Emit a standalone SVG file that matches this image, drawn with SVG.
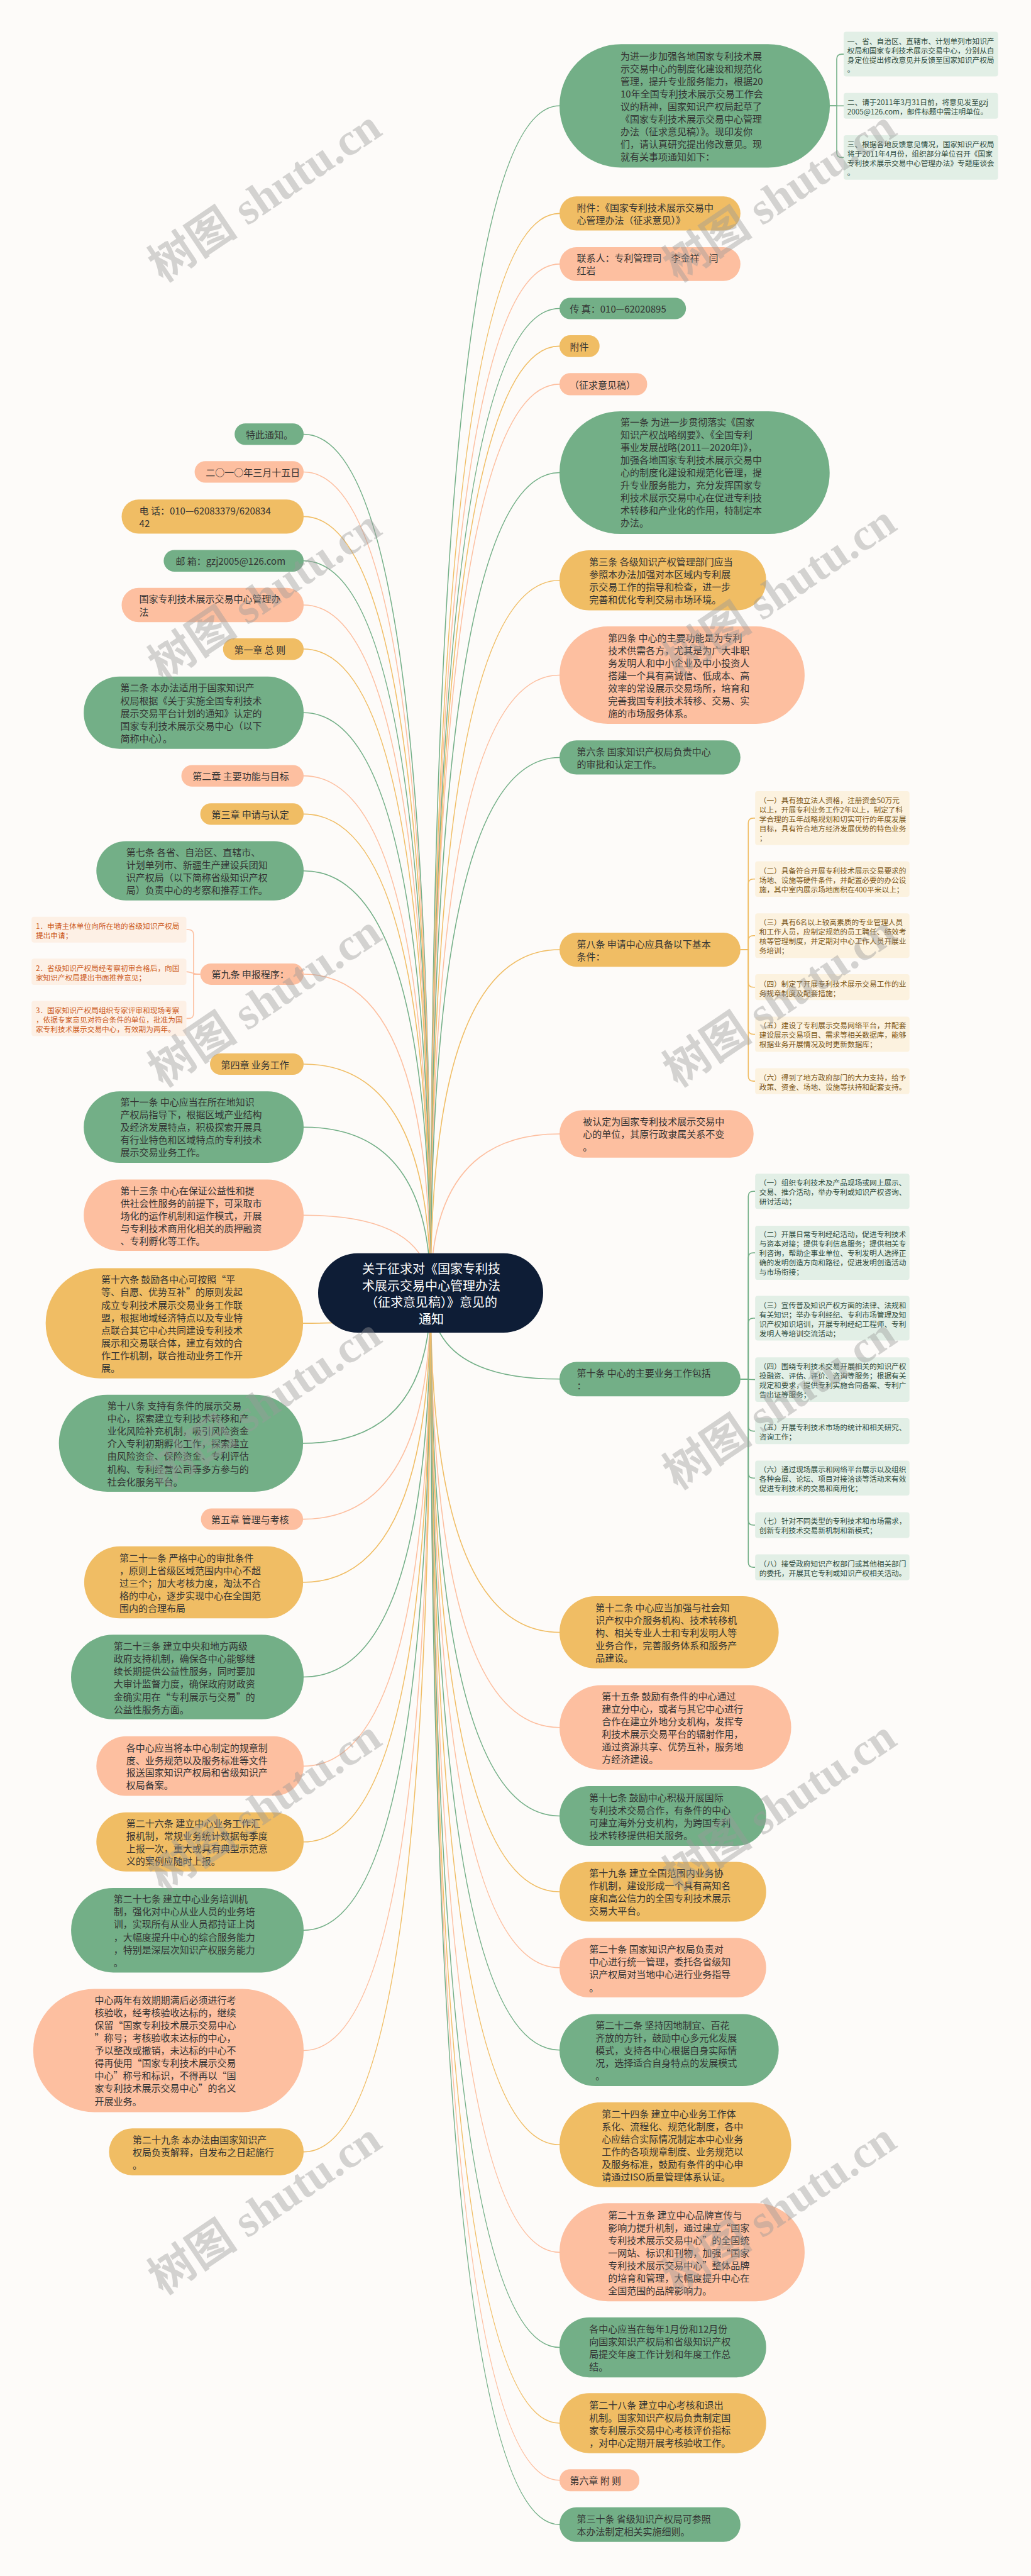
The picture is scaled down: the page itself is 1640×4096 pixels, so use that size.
<svg xmlns="http://www.w3.org/2000/svg" width="1640" height="4096" viewBox="0 0 1640 4096">
<style>
.bg{fill:#fdfbf9}
.g{fill:#73af87}.y{fill:#f0bd64}.s{fill:#fdbfa0}.root{fill:#0e1d36}
.dg{fill:#e2efe6}.dy{fill:#fcf2df}.ds{fill:#fdf0e5}
.t{font-family:"Noto Sans CJK SC","Noto Sans",sans-serif;font-size:15px;fill:#333333;dominant-baseline:central}
.d{font-family:"Noto Sans CJK SC","Noto Sans",sans-serif;font-size:11.7px;dominant-baseline:central}
.tg{fill:#2e4a3b}.ty{fill:#7a5516}.ts{fill:#cc5a1c}
.rt{font-family:"Noto Sans CJK SC","Noto Sans",sans-serif;font-size:20px;fill:#ffffff;dominant-baseline:central;text-anchor:middle}
.c{fill:none;stroke-width:1.6}
.cg{stroke:#73af87}.cy{stroke:#f0bd64}.cs{stroke:#fdbfa0}
.wm{font-family:"Liberation Serif","Noto Sans CJK SC",serif;font-size:72px;font-weight:bold;fill:#9a9a9a;opacity:0.42}
</style>
<rect class="bg" x="0" y="0" width="1640" height="4096"/>
<g id="connectors">
<path class="c cg" d="M685 2056 Q685 168.3 890 168.3"/>
<path class="c cy" d="M685 2056 Q685 339.4 890 339.4"/>
<path class="c cs" d="M685 2056 Q685 419.9 890 419.9"/>
<path class="c cg" d="M685 2056 Q685 490.5 890 490.5"/>
<path class="c cy" d="M685 2056 Q685 550.4 890 550.4"/>
<path class="c cs" d="M685 2056 Q685 610.9 890 610.9"/>
<path class="c cg" d="M685 2056 Q685 751.5 890 751.5"/>
<path class="c cy" d="M685 2056 Q685 922.8 890 922.8"/>
<path class="c cs" d="M685 2056 Q685 1073.5 890 1073.5"/>
<path class="c cg" d="M685 2056 Q685 1204.5 890 1204.5"/>
<path class="c cy" d="M685 2056 Q685 1510 890 1510"/>
<path class="c cs" d="M685 2056 Q685 1803 890 1803"/>
<path class="c cg" d="M685 2056 Q685 2192.8 890 2192.8"/>
<path class="c cy" d="M685 2056 Q685 2595.5 890 2595.5"/>
<path class="c cs" d="M685 2056 Q685 2746.7 890 2746.7"/>
<path class="c cg" d="M685 2056 Q685 2887.5 890 2887.5"/>
<path class="c cy" d="M685 2056 Q685 3008 890 3008"/>
<path class="c cs" d="M685 2056 Q685 3128.8 890 3128.8"/>
<path class="c cg" d="M685 2056 Q685 3259.7 890 3259.7"/>
<path class="c cy" d="M685 2056 Q685 3410.3 890 3410.3"/>
<path class="c cs" d="M685 2056 Q685 3581.3 890 3581.3"/>
<path class="c cg" d="M685 2056 Q685 3732.5 890 3732.5"/>
<path class="c cy" d="M685 2056 Q685 3853 890 3853"/>
<path class="c cs" d="M685 2056 Q685 3943.8 890 3943.8"/>
<path class="c cg" d="M685 2056 Q685 4014.2 890 4014.2"/>
<path class="c cg" d="M685 2056 Q685 690.5 483 690.5"/>
<path class="c cs" d="M685 2056 Q685 750.5 483 750.5"/>
<path class="c cy" d="M685 2056 Q685 821.4 483 821.4"/>
<path class="c cg" d="M685 2056 Q685 891.8 483 891.8"/>
<path class="c cs" d="M685 2056 Q685 962 483 962"/>
<path class="c cy" d="M685 2056 Q685 1032 483 1032"/>
<path class="c cg" d="M685 2056 Q685 1133.3 483 1133.3"/>
<path class="c cs" d="M685 2056 Q685 1233.6 483 1233.6"/>
<path class="c cy" d="M685 2056 Q685 1294.4 483 1294.4"/>
<path class="c cg" d="M685 2056 Q685 1384.7 483 1384.7"/>
<path class="c cs" d="M685 2056 Q685 1549 483 1549"/>
<path class="c cy" d="M685 2056 Q685 1692 483 1692"/>
<path class="c cg" d="M685 2056 Q685 1792.2 483 1792.2"/>
<path class="c cs" d="M685 2056 Q685 1932.2 483 1932.2"/>
<path class="c cy" d="M685 2056 Q685 2104.1 482 2104.1"/>
<path class="c cg" d="M685 2056 Q685 2294.9 482 2294.9"/>
<path class="c cs" d="M685 2056 Q685 2415.6 482 2415.6"/>
<path class="c cy" d="M685 2056 Q685 2516 482 2516"/>
<path class="c cg" d="M685 2056 Q685 2666.5 483 2666.5"/>
<path class="c cs" d="M685 2056 Q685 2808.2 483 2808.2"/>
<path class="c cy" d="M685 2056 Q685 2928.8 483 2928.8"/>
<path class="c cg" d="M685 2056 Q685 3069.2 483 3069.2"/>
<path class="c cs" d="M685 2056 Q685 3260.5 483 3260.5"/>
<path class="c cy" d="M685 2056 Q685 3421.6 483 3421.6"/>
<path class="c cg" d="M1320 168.3 H1331 V94.1 Q1331 86.1 1339 86.1 H1342"/>
<path class="c cg" d="M1320 168.3 H1342"/>
<path class="c cg" d="M1320 168.3 H1331 V242.4 Q1331 250.4 1339 250.4 H1342"/>
<path class="c cy" d="M1177.8 1510 H1190.3 V1308.9 Q1190.3 1300.9 1198.3 1300.9 H1201.2"/>
<path class="c cy" d="M1177.8 1510 H1190.3 V1405.8 Q1190.3 1397.8 1198.3 1397.8 H1201.2"/>
<path class="c cy" d="M1177.8 1510 H1190.3 V1495.8 Q1190.3 1487.8 1198.3 1487.8 H1201.2"/>
<path class="c cy" d="M1177.8 1510 H1190.3 V1561.7 Q1190.3 1569.7 1198.3 1569.7 H1201.2"/>
<path class="c cy" d="M1177.8 1510 H1190.3 V1636.6 Q1190.3 1644.6 1198.3 1644.6 H1201.2"/>
<path class="c cy" d="M1177.8 1510 H1190.3 V1711.1 Q1190.3 1719.1 1198.3 1719.1 H1201.2"/>
<path class="c cg" d="M1177.8 2192.8 H1190.3 V1902.2 Q1190.3 1894.2 1198.3 1894.2 H1201.2"/>
<path class="c cg" d="M1177.8 2192.8 H1190.3 V2000 Q1190.3 1992 1198.3 1992 H1201.2"/>
<path class="c cg" d="M1177.8 2192.8 H1190.3 V2104 Q1190.3 2096 1198.3 2096 H1201.2"/>
<path class="c cg" d="M1177.8 2192.8 C1190 2192.8 1190 2193.6 1201.2 2193.6"/>
<path class="c cg" d="M1177.8 2192.8 H1190.3 V2267.6 Q1190.3 2275.6 1198.3 2275.6 H1201.2"/>
<path class="c cg" d="M1177.8 2192.8 H1190.3 V2342.3 Q1190.3 2350.3 1198.3 2350.3 H1201.2"/>
<path class="c cg" d="M1177.8 2192.8 H1190.3 V2417 Q1190.3 2425 1198.3 2425 H1201.2"/>
<path class="c cg" d="M1177.8 2192.8 H1190.3 V2484.1 Q1190.3 2492.1 1198.3 2492.1 H1201.2"/>
<path class="c cs" d="M318.6 1549 H307.9 V1486.3 Q307.9 1478.3 299.9 1478.3 H296.5"/>
<path class="c cs" d="M318.6 1549 C305 1549 305 1545.1 296.5 1545.1"/>
<path class="c cs" d="M318.6 1549 H307.9 V1611.4 Q307.9 1619.4 299.9 1619.4 H296.5"/>
</g>
<g id="root">
<rect class="root" x="506" y="1992.7" width="358" height="126.3" rx="63" ry="63"/>
<text class="rt" x="686" y="2016.5">关于征求对《国家专利技</text>
<text class="rt" x="686" y="2043.2">术展示交易中心管理办法</text>
<text class="rt" x="686" y="2069.9">（征求意见稿）》意见的</text>
<text class="rt" x="686" y="2096.6">通知</text>
</g>
<g id="n1">
<rect class="g" x="890" y="70.2" width="430" height="196.2" rx="98" ry="98"/>
<text class="t" x="987" y="88.5">为进一步加强各地国家专利技术展</text>
<text class="t" x="987" y="108.5">示交易中心的制度化建设和规范化</text>
<text class="t" x="987" y="128.5">管理，提升专业服务能力，根据20</text>
<text class="t" x="987" y="148.5">10年全国专利技术展示交易工作会</text>
<text class="t" x="987" y="168.5">议的精神，国家知识产权局起草了</text>
<text class="t" x="987" y="188.5">《国家专利技术展示交易中心管理</text>
<text class="t" x="987" y="208.5">办法（征求意见稿）》。现印发你</text>
<text class="t" x="987" y="228.5">们，请认真研究提出修改意见。现</text>
<text class="t" x="987" y="248.5">就有关事项通知如下：</text>
</g>
<g id="n1d1">
<rect class="dg" x="1342" y="50.6" width="245.6" height="71" rx="4"/>
<text class="d tg" x="1347.8" y="64">一、省、自治区、直辖市、计划单列市知识产</text>
<text class="d tg" x="1347.8" y="79">权局和国家专利技术展示交易中心，分别从自</text>
<text class="d tg" x="1347.8" y="94">身定位提出修改意见并反馈至国家知识产权局</text>
<text class="d tg" x="1347.8" y="109">。</text>
</g>
<g id="n1d2">
<rect class="dg" x="1342" y="147.8" width="245.6" height="41" rx="4"/>
<text class="d tg" x="1347.8" y="161.7">二、请于2011年3月31日前，将意见发至gzj</text>
<text class="d tg" x="1347.8" y="176.7">2005@126.com，邮件标题中需注明单位。</text>
</g>
<g id="n1d3">
<rect class="dg" x="1342" y="215" width="245.6" height="70.8" rx="4"/>
<text class="d tg" x="1347.8" y="228.2">三、根据各地反馈意见情况，国家知识产权局</text>
<text class="d tg" x="1347.8" y="243.2">将于2011年4月份，组织部分单位召开《国家</text>
<text class="d tg" x="1347.8" y="258.2">专利技术展示交易中心管理办法》专题座谈会</text>
<text class="d tg" x="1347.8" y="273.2">。</text>
</g>
<g id="n2">
<rect class="y" x="890" y="312.2" width="287.8" height="54.3" rx="27" ry="27"/>
<text class="t" x="917.4" y="329.4">附件：《国家专利技术展示交易中</text>
<text class="t" x="917.4" y="349.6">心管理办法（征求意见）》</text>
</g>
<g id="n3">
<rect class="s" x="890" y="392.9" width="287.8" height="53.9" rx="27" ry="27"/>
<text class="t" x="917.4" y="409.8">联系人：专利管理司　李金祥　闫</text>
<text class="t" x="917.4" y="429.8">红岩</text>
</g>
<g id="n4">
<rect class="g" x="890" y="473.5" width="201.2" height="34" rx="17" ry="17"/>
<text class="t" x="906.4" y="490.5">传 真：010—62020895</text>
</g>
<g id="n5">
<rect class="y" x="890" y="532.9" width="63.7" height="34.9" rx="17" ry="17"/>
<text class="t" x="906.4" y="550.6">附件</text>
</g>
<g id="n6">
<rect class="s" x="890" y="593.2" width="139.4" height="35.3" rx="17" ry="17"/>
<text class="t" x="906" y="611">（征求意见稿）</text>
</g>
<g id="n7">
<rect class="g" x="890" y="653.9" width="429.7" height="195.2" rx="97" ry="97"/>
<text class="t" x="987" y="670.9">第一条 为进一步贯彻落实《国家</text>
<text class="t" x="987" y="690.9">知识产权战略纲要》、《全国专利</text>
<text class="t" x="987" y="710.9">事业发展战略(2011—2020年)》，</text>
<text class="t" x="987" y="730.9">加强各地国家专利技术展示交易中</text>
<text class="t" x="987" y="750.9">心的制度化建设和规范化管理，提</text>
<text class="t" x="987" y="770.9">升专业服务能力，充分发挥国家专</text>
<text class="t" x="987" y="790.9">利技术展示交易中心在促进专利技</text>
<text class="t" x="987" y="810.9">术转移和产业化的作用，特制定本</text>
<text class="t" x="987" y="830.9">办法。</text>
</g>
<g id="n8">
<rect class="y" x="890" y="875" width="328.7" height="95.6" rx="47" ry="47"/>
<text class="t" x="937.3" y="892.9">第三条 各级知识产权管理部门应当</text>
<text class="t" x="937.3" y="912.9">参照本办法加强对本区域内专利展</text>
<text class="t" x="937.3" y="932.9">示交易工作的指导和检查，进一步</text>
<text class="t" x="937.3" y="952.9">完善和优化专利交易市场环境。</text>
</g>
<g id="n9">
<rect class="s" x="890" y="996" width="389.9" height="155" rx="77" ry="77"/>
<text class="t" x="967.2" y="1013">第四条 中心的主要功能是为专利</text>
<text class="t" x="967.2" y="1033">技术供需各方，尤其是为广大非职</text>
<text class="t" x="967.2" y="1053">务发明人和中小企业及中小投资人</text>
<text class="t" x="967.2" y="1073">搭建一个具有高诚信、低成本、高</text>
<text class="t" x="967.2" y="1093">效率的常设展示交易场所，培育和</text>
<text class="t" x="967.2" y="1113">完善我国专利技术转移、交易、实</text>
<text class="t" x="967.2" y="1133">施的市场服务体系。</text>
</g>
<g id="n10">
<rect class="g" x="890" y="1177.3" width="287.8" height="54.3" rx="27" ry="27"/>
<text class="t" x="917.4" y="1194.3">第六条 国家知识产权局负责中心</text>
<text class="t" x="917.4" y="1214.3">的审批和认定工作。</text>
</g>
<g id="n11">
<rect class="y" x="890" y="1482.9" width="287.8" height="54.3" rx="27" ry="27"/>
<text class="t" x="917.4" y="1500.3">第八条 申请中心应具备以下基本</text>
<text class="t" x="917.4" y="1520.3">条件：</text>
</g>
<g id="n11d1">
<rect class="dy" x="1201.2" y="1258" width="245.5" height="85.7" rx="4"/>
<text class="d ty" x="1207.7" y="1271.5">（一）具有独立法人资格，注册资金50万元</text>
<text class="d ty" x="1207.7" y="1286.5">以上，开展专利业务工作2年以上，制定了科</text>
<text class="d ty" x="1207.7" y="1301.5">学合理的五年战略规划和切实可行的年度发展</text>
<text class="d ty" x="1207.7" y="1316.5">目标，具有符合地方经济发展优势的特色业务</text>
<text class="d ty" x="1207.7" y="1331.5">；</text>
</g>
<g id="n11d2">
<rect class="dy" x="1201.2" y="1369.5" width="245.5" height="56.5" rx="4"/>
<text class="d ty" x="1207.7" y="1383.1">（二）具备符合开展专利技术展示交易要求的</text>
<text class="d ty" x="1207.7" y="1398.1">场地、设施等硬件条件，并配置必要的办公设</text>
<text class="d ty" x="1207.7" y="1413.1">施，其中室内展示场地面积在400平米以上；</text>
</g>
<g id="n11d3">
<rect class="dy" x="1201.2" y="1452.3" width="245.5" height="70.9" rx="4"/>
<text class="d ty" x="1207.7" y="1465.9">（三）具有6名以上较高素质的专业管理人员</text>
<text class="d ty" x="1207.7" y="1480.9">和工作人员，应制定规范的员工聘任、绩效考</text>
<text class="d ty" x="1207.7" y="1495.9">核等管理制度，并定期对中心工作人员开展业</text>
<text class="d ty" x="1207.7" y="1510.9">务培训；</text>
</g>
<g id="n11d4">
<rect class="dy" x="1201.2" y="1549.1" width="245.5" height="41.2" rx="4"/>
<text class="d ty" x="1207.7" y="1563.5">（四）制定了开展专利技术展示交易工作的业</text>
<text class="d ty" x="1207.7" y="1578.5">务规章制度及配套措施；</text>
</g>
<g id="n11d5">
<rect class="dy" x="1201.2" y="1616.6" width="245.5" height="56" rx="4"/>
<text class="d ty" x="1207.7" y="1629.8">（五）建设了专利展示交易网络平台，并配套</text>
<text class="d ty" x="1207.7" y="1644.8">建设展示交易项目、需求等相关数据库，能够</text>
<text class="d ty" x="1207.7" y="1659.8">根据业务开展情况及时更新数据库；</text>
</g>
<g id="n11d6">
<rect class="dy" x="1201.2" y="1698.5" width="245.5" height="41.2" rx="4"/>
<text class="d ty" x="1207.7" y="1712.1">（六）得到了地方政府部门的大力支持，给予</text>
<text class="d ty" x="1207.7" y="1727.1">政策、资金、场地、设施等扶持和配套支持。</text>
</g>
<g id="n12">
<rect class="s" x="890" y="1765.2" width="308.7" height="75.5" rx="37" ry="37"/>
<text class="t" x="927.3" y="1782.6">被认定为国家专利技术展示交易中</text>
<text class="t" x="927.3" y="1802.6">心的单位，其原行政隶属关系不变</text>
<text class="t" x="927.3" y="1822.6">。</text>
</g>
<g id="n13">
<rect class="g" x="890" y="2165.4" width="287.8" height="54.8" rx="27" ry="27"/>
<text class="t" x="917.4" y="2182.8">第十条 中心的主要业务工作包括</text>
<text class="t" x="917.4" y="2202.8">：</text>
</g>
<g id="n13d1">
<rect class="dg" x="1201.2" y="1866.2" width="245.5" height="56" rx="4"/>
<text class="d tg" x="1207.7" y="1879.8">（一）组织专利技术及产品现场或网上展示、</text>
<text class="d tg" x="1207.7" y="1894.8">交易、推介活动，举办专利或知识产权咨询、</text>
<text class="d tg" x="1207.7" y="1909.8">研讨活动；</text>
</g>
<g id="n13d2">
<rect class="dg" x="1201.2" y="1949" width="245.5" height="86.1" rx="4"/>
<text class="d tg" x="1207.7" y="1961.7">（二）开展日常专利经纪活动，促进专利技术</text>
<text class="d tg" x="1207.7" y="1976.7">与资本对接；提供专利信息服务；提供相关专</text>
<text class="d tg" x="1207.7" y="1991.7">利咨询，帮助企事业单位、专利发明人选择正</text>
<text class="d tg" x="1207.7" y="2006.7">确的发明创造方向和路径，促进发明创造活动</text>
<text class="d tg" x="1207.7" y="2021.7">与市场衔接；</text>
</g>
<g id="n13d3">
<rect class="dg" x="1201.2" y="2060.6" width="245.5" height="70.9" rx="4"/>
<text class="d tg" x="1207.7" y="2074.2">（三）宣传普及知识产权方面的法律、法规和</text>
<text class="d tg" x="1207.7" y="2089.2">有关知识；举办专利经纪、专利市场管理及知</text>
<text class="d tg" x="1207.7" y="2104.2">识产权知识培训，开展专利经纪工程师、专利</text>
<text class="d tg" x="1207.7" y="2119.2">发明人等培训交流活动；</text>
</g>
<g id="n13d4">
<rect class="dg" x="1201.2" y="2158.2" width="245.5" height="70.9" rx="4"/>
<text class="d tg" x="1207.7" y="2171.4">（四）围绕专利技术交易开展相关的知识产权</text>
<text class="d tg" x="1207.7" y="2186.4">投融资、评估、评价、咨询等服务；根据有关</text>
<text class="d tg" x="1207.7" y="2201.4">规定和要求，提供专利实施合同备案、专利广</text>
<text class="d tg" x="1207.7" y="2216.4">告出证等服务；</text>
</g>
<g id="n13d5">
<rect class="dg" x="1201.2" y="2255" width="245.5" height="41.2" rx="4"/>
<text class="d tg" x="1207.7" y="2268.6">（五）开展专利技术市场的统计和相关研究、</text>
<text class="d tg" x="1207.7" y="2283.6">咨询工作；</text>
</g>
<g id="n13d6">
<rect class="dg" x="1201.2" y="2322.5" width="245.5" height="55.6" rx="4"/>
<text class="d tg" x="1207.7" y="2335.2">（六）通过现场展示和网络平台展示以及组织</text>
<text class="d tg" x="1207.7" y="2350.2">各种会展、论坛、项目对接洽谈等活动来有效</text>
<text class="d tg" x="1207.7" y="2365.2">促进专利技术的交易和商用化；</text>
</g>
<g id="n13d7">
<rect class="dg" x="1201.2" y="2404.4" width="245.5" height="41.2" rx="4"/>
<text class="d tg" x="1207.7" y="2417.6">（七）针对不同类型的专利技术和市场需求，</text>
<text class="d tg" x="1207.7" y="2432.6">创新专利技术交易新机制和新模式；</text>
</g>
<g id="n13d8">
<rect class="dg" x="1201.2" y="2471.5" width="245.5" height="41.2" rx="4"/>
<text class="d tg" x="1207.7" y="2485.1">（八）接受政府知识产权部门或其他相关部门</text>
<text class="d tg" x="1207.7" y="2500.1">的委托，开展其它专利或知识产权相关活动。</text>
</g>
<g id="n14">
<rect class="y" x="890" y="2538.1" width="348.6" height="114.7" rx="57" ry="57"/>
<text class="t" x="947.2" y="2555.1">第十二条 中心应当加强与社会知</text>
<text class="t" x="947.2" y="2575.3">识产权中介服务机构、技术转移机</text>
<text class="t" x="947.2" y="2595.5">构、相关专业人士和专利发明人等</text>
<text class="t" x="947.2" y="2615.7">业务合作，完善服务体系和服务产</text>
<text class="t" x="947.2" y="2635.9">品建设。</text>
</g>
<g id="n15">
<rect class="s" x="890" y="2679.4" width="368.5" height="134.6" rx="67" ry="67"/>
<text class="t" x="957.2" y="2696.4">第十五条 鼓励有条件的中心通过</text>
<text class="t" x="957.2" y="2716.5">建立分中心，或者与其它中心进行</text>
<text class="t" x="957.2" y="2736.6">合作在建立外地分支机构，发挥专</text>
<text class="t" x="957.2" y="2756.7">利技术展示交易平台的辐射作用，</text>
<text class="t" x="957.2" y="2776.8">通过资源共享、优势互补，服务地</text>
<text class="t" x="957.2" y="2796.9">方经济建设。</text>
</g>
<g id="n16">
<rect class="g" x="890" y="2839.9" width="328.7" height="95.1" rx="47" ry="47"/>
<text class="t" x="937.3" y="2857.7">第十七条 鼓励中心积极开展国际</text>
<text class="t" x="937.3" y="2877.7">专利技术交易合作，有条件的中心</text>
<text class="t" x="937.3" y="2897.7">可建立海外分支机构，为跨国专利</text>
<text class="t" x="937.3" y="2917.7">技术转移提供相关服务。</text>
</g>
<g id="n17">
<rect class="y" x="890" y="2960.5" width="328.7" height="95.1" rx="47" ry="47"/>
<text class="t" x="937.3" y="2977.9">第十九条 建立全国范围内业务协</text>
<text class="t" x="937.3" y="2997.9">作机制，建设形成一个具有高知名</text>
<text class="t" x="937.3" y="3017.9">度和高公信力的全国专利技术展示</text>
<text class="t" x="937.3" y="3037.9">交易大平台。</text>
</g>
<g id="n18">
<rect class="s" x="890" y="3081.4" width="328.7" height="94.7" rx="47" ry="47"/>
<text class="t" x="937.3" y="3098.4">第二十条 国家知识产权局负责对</text>
<text class="t" x="937.3" y="3118.6">中心进行统一管理，委托各省级知</text>
<text class="t" x="937.3" y="3138.8">识产权局对当地中心进行业务指导</text>
<text class="t" x="937.3" y="3159">。</text>
</g>
<g id="n19">
<rect class="g" x="890" y="3202.4" width="348.6" height="114.6" rx="57" ry="57"/>
<text class="t" x="947.2" y="3219.4">第二十二条 坚持因地制宜、百花</text>
<text class="t" x="947.2" y="3239.5">齐放的方针，鼓励中心多元化发展</text>
<text class="t" x="947.2" y="3259.6">模式，支持各中心根据自身实际情</text>
<text class="t" x="947.2" y="3279.7">况，选择适合自身特点的发展模式</text>
<text class="t" x="947.2" y="3299.8">。</text>
</g>
<g id="n20">
<rect class="y" x="890" y="3342.8" width="368.5" height="134.9" rx="67" ry="67"/>
<text class="t" x="957.2" y="3360">第二十四条 建立中心业务工作体</text>
<text class="t" x="957.2" y="3380.1">系化、流程化、规范化制度，各中</text>
<text class="t" x="957.2" y="3400.2">心应结合实际情况制定本中心业务</text>
<text class="t" x="957.2" y="3420.3">工作的各项规章制度、业务规范以</text>
<text class="t" x="957.2" y="3440.4">及服务标准，鼓励有条件的中心申</text>
<text class="t" x="957.2" y="3460.5">请通过ISO质量管理体系认证。</text>
</g>
<g id="n21">
<rect class="s" x="890" y="3503.3" width="389.9" height="155.9" rx="77" ry="77"/>
<text class="t" x="967.2" y="3521.5">第二十五条 建立中心品牌宣传与</text>
<text class="t" x="967.2" y="3541.5">影响力提升机制，通过建立“国家</text>
<text class="t" x="967.2" y="3561.5">专利技术展示交易中心”的全国统</text>
<text class="t" x="967.2" y="3581.5">一网站、标识和刊物，加强“国家</text>
<text class="t" x="967.2" y="3601.5">专利技术展示交易中心”整体品牌</text>
<text class="t" x="967.2" y="3621.5">的培育和管理，大幅度提升中心在</text>
<text class="t" x="967.2" y="3641.5">全国范围的品牌影响力。</text>
</g>
<g id="n22">
<rect class="g" x="890" y="3684.8" width="328.7" height="95.4" rx="47" ry="47"/>
<text class="t" x="937.3" y="3702">各中心应当在每年1月份和12月份</text>
<text class="t" x="937.3" y="3722.1">向国家知识产权局和省级知识产权</text>
<text class="t" x="937.3" y="3742.2">局提交年度工作计划和年度工作总</text>
<text class="t" x="937.3" y="3762.3">结。</text>
</g>
<g id="n23">
<rect class="y" x="890" y="3805.3" width="328.7" height="95.4" rx="47" ry="47"/>
<text class="t" x="937.3" y="3823">第二十八条 建立中心考核和退出</text>
<text class="t" x="937.3" y="3843.1">机制。国家知识产权局负责制定国</text>
<text class="t" x="937.3" y="3863.2">家专利展示交易中心考核评价指标</text>
<text class="t" x="937.3" y="3883.3">，对中心定期开展考核验收工作。</text>
</g>
<g id="n24">
<rect class="s" x="890" y="3926.3" width="127" height="34.9" rx="17" ry="17"/>
<text class="t" x="906.4" y="3943.9">第六章 附 则</text>
</g>
<g id="n25">
<rect class="g" x="890" y="3986.7" width="287.8" height="55" rx="27" ry="27"/>
<text class="t" x="917.4" y="4004.4">第三十条 省级知识产权局可参照</text>
<text class="t" x="917.4" y="4024.2">本办法制定相关实施细则。</text>
</g>
<g id="la">
<rect class="g" x="373.2" y="673.3" width="109.8" height="34.3" rx="17" ry="17"/>
<text class="t" x="391" y="690.5">特此通知。</text>
</g>
<g id="lb">
<rect class="s" x="309.6" y="733.3" width="173.4" height="34.3" rx="17" ry="17"/>
<text class="t" x="327.3" y="750.5">二○一○年三月十五日</text>
</g>
<g id="lc">
<rect class="y" x="193.5" y="794.2" width="289.5" height="54.4" rx="27" ry="27"/>
<text class="t" x="221.6" y="811.4">电 话：010—62083379/620834</text>
<text class="t" x="221.6" y="831.5">42</text>
</g>
<g id="ld">
<rect class="g" x="260.4" y="874.4" width="222.6" height="34.7" rx="17" ry="17"/>
<text class="t" x="279.5" y="891.9">邮 箱：gzj2005@126.com</text>
</g>
<g id="le">
<rect class="s" x="193.5" y="934.8" width="289.5" height="54.4" rx="27" ry="27"/>
<text class="t" x="221.6" y="951.9">国家专利技术展示交易中心管理办</text>
<text class="t" x="221.6" y="972.1">法</text>
</g>
<g id="lf">
<rect class="y" x="354.8" y="1014.9" width="128.2" height="34.3" rx="17" ry="17"/>
<text class="t" x="372.5" y="1032.1">第一章 总 则</text>
</g>
<g id="lg">
<rect class="g" x="133.2" y="1075.8" width="349.8" height="114.9" rx="57" ry="57"/>
<text class="t" x="191.4" y="1092.9">第二条 本办法适用于国家知识产</text>
<text class="t" x="191.4" y="1113.1">权局根据《关于实施全国专利技术</text>
<text class="t" x="191.4" y="1133.2">展示交易平台计划的通知》认定的</text>
<text class="t" x="191.4" y="1153.4">国家专利技术展示交易中心（以下</text>
<text class="t" x="191.4" y="1173.5">简称中心）。</text>
</g>
<g id="lh">
<rect class="s" x="288.5" y="1216.4" width="194.5" height="34.3" rx="17" ry="17"/>
<text class="t" x="306.3" y="1233.5">第二章 主要功能与目标</text>
</g>
<g id="li">
<rect class="y" x="318.6" y="1277.2" width="164.4" height="34.3" rx="17" ry="17"/>
<text class="t" x="336.4" y="1294.4">第三章 申请与认定</text>
</g>
<g id="lj">
<rect class="g" x="153.3" y="1337.5" width="329.7" height="94.3" rx="47" ry="47"/>
<text class="t" x="200.8" y="1354.5">第七条 各省、自治区、直辖市、</text>
<text class="t" x="200.8" y="1374.5">计划单列市、新疆生产建设兵团知</text>
<text class="t" x="200.8" y="1394.5">识产权局（以下简称省级知识产权</text>
<text class="t" x="200.8" y="1414.5">局）负责中心的考察和推荐工作。</text>
</g>
<g id="lk">
<rect class="s" x="318.6" y="1532" width="164.4" height="33.9" rx="17" ry="17"/>
<text class="t" x="336.4" y="1548.9">第九条 申报程序：</text>
</g>
<g id="lkd1">
<rect class="ds" x="50.2" y="1457.7" width="246.3" height="41.1" rx="4"/>
<text class="d ts" x="56.9" y="1471.3">1．申请主体单位向所在地的省级知识产权局</text>
<text class="d ts" x="56.9" y="1486.3">提出申请；</text>
</g>
<g id="lkd2">
<rect class="ds" x="50.2" y="1524.3" width="246.3" height="41.6" rx="4"/>
<text class="d ts" x="56.9" y="1538.3">2．省级知识产权局经考察初审合格后，向国</text>
<text class="d ts" x="56.9" y="1553.3">家知识产权局提出书面推荐意见；</text>
</g>
<g id="lkd3">
<rect class="ds" x="50.2" y="1591.4" width="246.3" height="56" rx="4"/>
<text class="d ts" x="56.9" y="1605">3．国家知识产权局组织专家评审和现场考察</text>
<text class="d ts" x="56.9" y="1620">，依据专家意见对符合条件的单位，批准为国</text>
<text class="d ts" x="56.9" y="1635">家专利技术展示交易中心，有效期为两年。</text>
</g>
<g id="ll">
<rect class="y" x="334" y="1675" width="149" height="34" rx="17" ry="17"/>
<text class="t" x="351.4" y="1692">第四章 业务工作</text>
</g>
<g id="lm">
<rect class="g" x="133.2" y="1735.3" width="349.8" height="113.8" rx="57" ry="57"/>
<text class="t" x="191.4" y="1751.4">第十一条 中心应当在所在地知识</text>
<text class="t" x="191.4" y="1771.5">产权局指导下，根据区域产业结构</text>
<text class="t" x="191.4" y="1791.6">及经济发展特点，积极探索开展具</text>
<text class="t" x="191.4" y="1811.7">有行业特色和区域特点的专利技术</text>
<text class="t" x="191.4" y="1831.8">展示交易业务工作。</text>
</g>
<g id="ln">
<rect class="s" x="133.2" y="1875.4" width="349.8" height="113.5" rx="57" ry="57"/>
<text class="t" x="191.4" y="1892.4">第十三条 中心在保证公益性和提</text>
<text class="t" x="191.4" y="1912.5">供社会性服务的前提下，可采取市</text>
<text class="t" x="191.4" y="1932.5">场化的运作机制和运作模式，开展</text>
<text class="t" x="191.4" y="1952.6">与专利技术商用化相关的质押融资</text>
<text class="t" x="191.4" y="1972.6">、专利孵化等工作。</text>
</g>
<g id="lo">
<rect class="y" x="72.7" y="2016.5" width="409.4" height="175.2" rx="87" ry="87"/>
<text class="t" x="160.9" y="2033.8">第十六条 鼓励各中心可按照“平</text>
<text class="t" x="160.9" y="2053.9">等、自愿、优势互补”的原则发起</text>
<text class="t" x="160.9" y="2074">成立专利技术展示交易业务工作联</text>
<text class="t" x="160.9" y="2094.1">盟，根据地域经济特点以及专业特</text>
<text class="t" x="160.9" y="2114.2">点联合其它中心共同建设专利技术</text>
<text class="t" x="160.9" y="2134.3">展示和交易联合体，建立有效的合</text>
<text class="t" x="160.9" y="2154.4">作工作机制，联合推动业务工作开</text>
<text class="t" x="160.9" y="2174.5">展。</text>
</g>
<g id="lp">
<rect class="g" x="93.7" y="2217.7" width="388.4" height="154.4" rx="77" ry="77"/>
<text class="t" x="170.8" y="2234.1">第十八条 支持有条件的展示交易</text>
<text class="t" x="170.8" y="2254.3">中心，探索建立专利技术转移和产</text>
<text class="t" x="170.8" y="2274.5">业化风险补充机制，吸引风险资金</text>
<text class="t" x="170.8" y="2294.7">介入专利初期孵化工作，探索建立</text>
<text class="t" x="170.8" y="2314.9">由风险资金、保险资金、专利评估</text>
<text class="t" x="170.8" y="2335.1">机构、专利经营公司等多方参与的</text>
<text class="t" x="170.8" y="2355.3">社会化服务平台。</text>
</g>
<g id="lq">
<rect class="s" x="319.6" y="2398.5" width="162.5" height="34.2" rx="17" ry="17"/>
<text class="t" x="336.1" y="2415.4">第五章 管理与考核</text>
</g>
<g id="lr">
<rect class="y" x="133.9" y="2458.7" width="348.2" height="114.6" rx="57" ry="57"/>
<text class="t" x="190.1" y="2476">第二十一条 严格中心的审批条件</text>
<text class="t" x="190.1" y="2496.1">，原则上省级区域范围内中心不超</text>
<text class="t" x="190.1" y="2516.2">过三个；加大考核力度，淘汰不合</text>
<text class="t" x="190.1" y="2536.3">格的中心，逐步实现中心在全国范</text>
<text class="t" x="190.1" y="2556.4">围内的合理布局</text>
</g>
<g id="ls">
<rect class="g" x="113" y="2599.3" width="370" height="134.4" rx="67" ry="67"/>
<text class="t" x="180.7" y="2616.6">第二十三条 建立中央和地方两级</text>
<text class="t" x="180.7" y="2636.7">政府支持机制，确保各中心能够继</text>
<text class="t" x="180.7" y="2656.8">续长期提供公益性服务，同时要加</text>
<text class="t" x="180.7" y="2676.9">大审计监督力度，确保政府财政资</text>
<text class="t" x="180.7" y="2697">金确实用在“专利展示与交易”的</text>
<text class="t" x="180.7" y="2717.1">公益性服务方面。</text>
</g>
<g id="lt">
<rect class="s" x="153.3" y="2760.8" width="329.7" height="94.8" rx="47" ry="47"/>
<text class="t" x="200.8" y="2778.3">各中心应当将本中心制定的规章制</text>
<text class="t" x="200.8" y="2798.1">度、业务规范以及服务标准等文件</text>
<text class="t" x="200.8" y="2817.9">报送国家知识产权局和省级知识产</text>
<text class="t" x="200.8" y="2837.7">权局备案。</text>
</g>
<g id="lu">
<rect class="y" x="153.3" y="2881.8" width="329.7" height="93.9" rx="47" ry="47"/>
<text class="t" x="200.8" y="2898.4">第二十六条 建立中心业务工作汇</text>
<text class="t" x="200.8" y="2918.3">报机制，常规业务统计数据每季度</text>
<text class="t" x="200.8" y="2938.2">上报一次，重大或具有典型示范意</text>
<text class="t" x="200.8" y="2958.1">义的案例应随时上报。</text>
</g>
<g id="lv">
<rect class="g" x="113.1" y="3001.9" width="369.9" height="134.5" rx="67" ry="67"/>
<text class="t" x="180.7" y="3018.5">第二十七条 建立中心业务培训机</text>
<text class="t" x="180.7" y="3038.7">制，强化对中心从业人员的业务培</text>
<text class="t" x="180.7" y="3058.9">训，实现所有从业人员都持证上岗</text>
<text class="t" x="180.7" y="3079.1">，大幅度提升中心的综合服务能力</text>
<text class="t" x="180.7" y="3099.3">，特别是深层次知识产权服务能力</text>
<text class="t" x="180.7" y="3119.5">。</text>
</g>
<g id="lw">
<rect class="s" x="52.9" y="3162.6" width="430.1" height="195.8" rx="97" ry="97"/>
<text class="t" x="150.6" y="3179.2">中心两年有效期期满后必须进行考</text>
<text class="t" x="150.6" y="3199.3">核验收，经考核验收达标的，继续</text>
<text class="t" x="150.6" y="3219.4">保留“国家专利技术展示交易中心</text>
<text class="t" x="150.6" y="3239.5">”称号；考核验收未达标的中心，</text>
<text class="t" x="150.6" y="3259.6">予以整改或撤销，未达标的中心不</text>
<text class="t" x="150.6" y="3279.7">得再使用“国家专利技术展示交易</text>
<text class="t" x="150.6" y="3299.8">中心”称号和标识，不得再以“国</text>
<text class="t" x="150.6" y="3319.9">家专利技术展示交易中心”的名义</text>
<text class="t" x="150.6" y="3340">开展业务。</text>
</g>
<g id="lx">
<rect class="y" x="173.4" y="3384.2" width="309.6" height="74.7" rx="37" ry="37"/>
<text class="t" x="210.9" y="3401.3">第二十九条 本办法由国家知识产</text>
<text class="t" x="210.9" y="3421.3">权局负责解释，自发布之日起施行</text>
<text class="t" x="210.9" y="3441.3">。</text>
</g>
<g id="watermarks">
<text class="wm" x="259" y="450" transform="rotate(-34 259 450)">树图 shutu.cn</text>
<text class="wm" x="1078" y="450" transform="rotate(-34 1078 450)">树图 shutu.cn</text>
<text class="wm" x="259" y="1085" transform="rotate(-34 259 1085)">树图 shutu.cn</text>
<text class="wm" x="1078" y="1078" transform="rotate(-34 1078 1078)">树图 shutu.cn</text>
<text class="wm" x="259" y="1730" transform="rotate(-34 259 1730)">树图 shutu.cn</text>
<text class="wm" x="1078" y="1730" transform="rotate(-34 1078 1730)">树图 shutu.cn</text>
<text class="wm" x="259" y="2370" transform="rotate(-34 259 2370)">树图 shutu.cn</text>
<text class="wm" x="1078" y="2370" transform="rotate(-34 1078 2370)">树图 shutu.cn</text>
<text class="wm" x="259" y="3010" transform="rotate(-34 259 3010)">树图 shutu.cn</text>
<text class="wm" x="1078" y="3010" transform="rotate(-34 1078 3010)">树图 shutu.cn</text>
<text class="wm" x="259" y="3650" transform="rotate(-34 259 3650)">树图 shutu.cn</text>
<text class="wm" x="1078" y="3650" transform="rotate(-34 1078 3650)">树图 shutu.cn</text>
</g>
</svg>
